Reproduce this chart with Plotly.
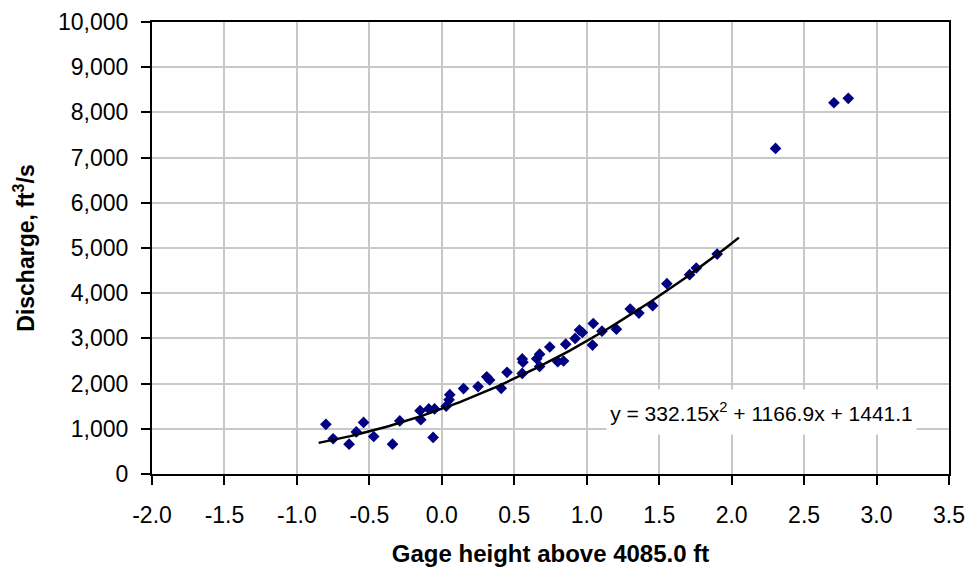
import numpy as np
import plotly.graph_objects as go

# Measured points (gage height above 4085.0 ft, discharge ft3/s)
gage_height = [-0.80, -0.75, -0.64, -0.59, -0.54, -0.47, -0.34, -0.29, -0.15, -0.145,
               -0.09, -0.05, -0.06, 0.03, 0.05, 0.055, 0.15, 0.25, 0.31, 0.33,
               0.41, 0.45, 0.555, 0.56, 0.555, 0.655, 0.675, 0.675, 0.745, 0.80,
               0.84, 0.855, 0.92, 0.95, 0.97, 1.045, 1.04, 1.105, 1.205, 1.30,
               1.36, 1.455, 1.553, 1.71, 1.756, 1.90, 2.303, 2.706, 2.805]
discharge = [1100, 780, 660, 930, 1140, 830, 660, 1175, 1400, 1200,
             1440, 1440, 810, 1500, 1640, 1755, 1890, 1935, 2150, 2080,
             1896, 2250, 2545, 2475, 2225, 2550, 2650, 2380, 2810, 2484,
             2500, 2872, 3000, 3185, 3130, 3330, 2853, 3160, 3205, 3650,
             3560, 3723, 4210, 4410, 4557, 4866, 7204, 8214, 8311]

# Polynomial trendline shown on the chart
trend_coeffs = [332.15, 1166.9, 1441.1]
trend_range = [-0.85, 2.05]
equation_text = "y = 332.15x<sup>2</sup> + 1166.9x + 1441.1"

x_ticks = [-2.0, -1.5, -1.0, -0.5, 0.0, 0.5, 1.0, 1.5, 2.0, 2.5, 3.0, 3.5]
y_ticks = list(range(0, 10001, 1000))

tx = np.linspace(trend_range[0], trend_range[1], 120)
ty = np.polyval(trend_coeffs, tx)

FONT = "Liberation Sans, Arial, sans-serif"

fig = go.Figure()
fig.add_trace(go.Scatter(
    x=gage_height, y=discharge, mode="markers",
    marker=dict(symbol="diamond", size=9, color="#000080"),
    showlegend=False, hoverinfo="x+y"))
fig.add_trace(go.Scatter(
    x=tx, y=ty, mode="lines",
    line=dict(color="black", width=2.5),
    showlegend=False, hoverinfo="skip"))

fig.add_annotation(
    x=2.207, y=1371, xref="x", yref="y",
    text=equation_text, showarrow=False,
    font=dict(family=FONT, size=21, color="black"),
    bgcolor="white", width=305, height=40, borderpad=2, align="center")

axis_common = dict(
    showline=True, linecolor="black", linewidth=2, mirror=True,
    showgrid=True, gridcolor="#c8c8c8", gridwidth=1.5,
    ticks="outside", ticklen=9, tickwidth=2, tickcolor="black",
    zeroline=False,
    tickfont=dict(family=FONT, size=23, color="black"),
)

fig.update_xaxes(
    range=[-2.0, 3.5], tickvals=x_ticks,
    ticktext=[f"{v:.1f}" for v in x_ticks],
    ticklabelstandoff=10,
    title=dict(text="<b>Gage height above 4085.0 ft</b>",
               font=dict(family=FONT, size=24, color="black"), standoff=25),
    **axis_common)
fig.update_yaxes(
    range=[0, 10000], tickvals=y_ticks,
    ticktext=[f"{v:,}" for v in y_ticks],
    ticklabelstandoff=8,
    title=dict(text="<b>Discharge, ft<sup>3</sup>/s</b>",
               font=dict(family=FONT, size=23, color="black"), standoff=17),
    **axis_common)

fig.update_layout(
    width=965, height=567,
    margin=dict(l=152, r=16, t=22, b=93, autoexpand=False),
    paper_bgcolor="white", plot_bgcolor="white",
    font=dict(family=FONT, color="black"),
)

fig.write_html("out.html")
